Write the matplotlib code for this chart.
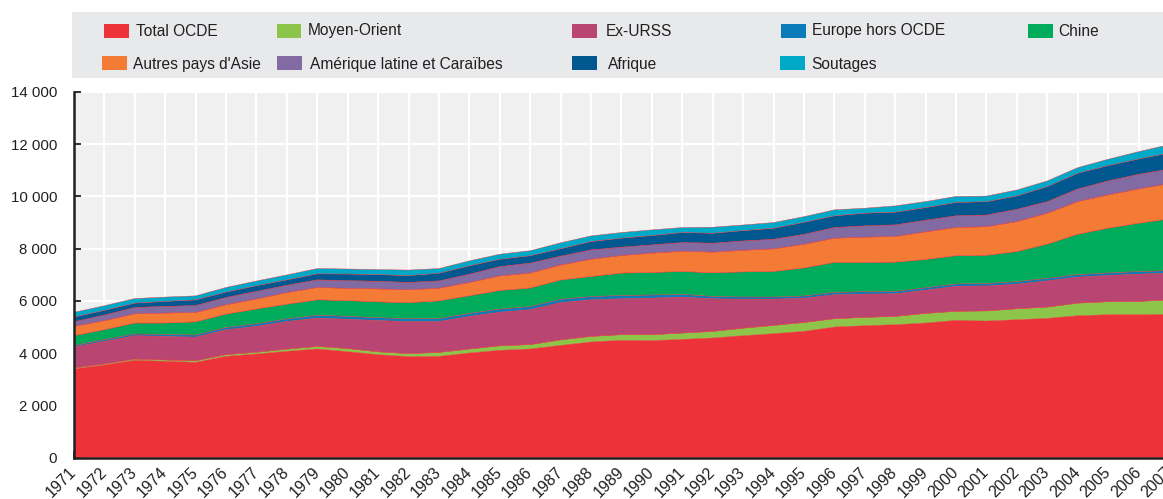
import matplotlib
matplotlib.use("Agg")
import matplotlib.pyplot as plt
from matplotlib.patches import Rectangle
from matplotlib.ticker import FuncFormatter, MultipleLocator

# ---------------- data (Mtep) ----------------
years = list(range(1971, 2008))
ocde = [3391, 3544, 3722, 3684, 3645, 3875, 3964, 4067, 4156, 4053,
        3939, 3862, 3875, 4003, 4105, 4155, 4296, 4424, 4487, 4474,
        4525, 4576, 4665, 4742, 4831, 4997, 5048, 5086, 5150, 5252,
        5226, 5277, 5328, 5430, 5468, 5468, 5481]
moyen_orient = [40, 40, 50, 52, 60, 64, 68, 85, 100, 120,
                110, 118, 150, 152, 175, 170, 210, 215, 218, 230,
                242, 255, 290, 318, 340, 320, 320, 320, 370, 350,
                390, 420, 435, 485, 500, 510, 560]
ex_urss = [802, 867, 892, 905, 905, 956, 994, 1058, 1083, 1123,
           1198, 1224, 1185, 1249, 1287, 1339, 1428, 1402, 1376, 1402,
           1377, 1249, 1109, 1007, 931, 918, 892, 867, 892, 956,
           956, 943, 1006, 994, 1008, 1046, 1019]
europe = [60, 65, 70, 75, 80, 88, 95, 100, 110, 110,
          110, 110, 112, 115, 120, 120, 125, 125, 125, 120,
          105, 90, 85, 80, 85, 90, 90, 90, 90, 90,
          92, 95, 95, 95, 95, 98, 100]
chine = [373, 381, 415, 435, 507, 510, 568, 562, 591, 603,
         604, 616, 679, 676, 709, 708, 740, 767, 857, 861,
         877, 904, 961, 979, 1075, 1147, 1122, 1121, 1083, 1082,
         1081, 1154, 1308, 1549, 1714, 1852, 1978]
asie = [357, 344, 357, 382, 357, 358, 382, 446, 472, 472,
        497, 497, 484, 510, 561, 574, 575, 663, 674, 740,
        777, 791, 828, 866, 905, 930, 968, 982, 1058, 1084,
        1096, 1147, 1185, 1249, 1275, 1313, 1352]
amerique = [179, 216, 242, 255, 268, 280, 294, 281, 293, 293,
            293, 281, 280, 318, 357, 380, 340, 357, 320, 318,
            331, 344, 357, 370, 382, 408, 434, 446, 446, 446,
            446, 472, 446, 485, 535, 561, 561]
afrique = [178, 179, 166, 191, 216, 204, 216, 204, 229, 255,
           255, 260, 294, 319, 280, 283, 281, 319, 344, 357,
           383, 382, 395, 420, 459, 446, 484, 484, 484, 510,
           510, 510, 574, 599, 587, 586, 611]
soutages = [179, 178, 175, 166, 153, 179, 179, 191, 204, 191,
            191, 211, 178, 191, 192, 191, 229, 216, 217, 217,
            191, 230, 217, 217, 217, 230, 191, 242, 230, 230,
            217, 229, 216, 217, 242, 280, 319]

series = [ocde, moyen_orient, ex_urss, europe, chine, asie, amerique, afrique, soutages]
labels = ["Total OCDE", "Moyen-Orient", "Ex-URSS", "Europe hors OCDE", "Chine",
          "Autres pays d'Asie", "Amérique latine et Caraïbes", "Afrique", "Soutages"]
colors = ["#ee3239", "#8dc44a", "#b94572", "#0b7bba", "#00ab5c",
          "#f47b35", "#826aa3", "#01578f", "#00a9c8"]

FONT = ["Liberation Sans", "DejaVu Sans"]
plt.rcParams["font.family"] = FONT
TXT = "#231f20"

W, H = 1163, 499
fig = plt.figure(figsize=(W / 100, H / 100), dpi=100)

# axes placement (pixels -> fraction)
x_left, x_right = 74, 1169
y_top, y_bot = 92, 457.5
ax = fig.add_axes([x_left / W, (H - y_bot) / H, (x_right - x_left) / W, (y_bot - y_top) / H])
ax.set_facecolor("#f0f0f0")

ax.stackplot(years, *series, colors=colors, linewidth=0.3,
             edgecolors=colors, zorder=2)

ax.set_xlim(years[0], years[-1])
ax.set_ylim(0, 14000)
ax.set_xticks(years)
ax.set_xticklabels([str(y) for y in years], rotation=45, ha="right", va="center",
                   rotation_mode="anchor", fontsize=11.5, color=TXT)
ax.yaxis.set_major_locator(MultipleLocator(2000))
ax.yaxis.set_major_formatter(FuncFormatter(lambda v, p: f"{int(v):,}".replace(",", " ")))
for t in ax.get_yticklabels():
    t.set_fontsize(10.8)
    t.set_color(TXT)

ax.grid(True, color="white", linewidth=1.6, zorder=0)
ax.set_axisbelow(True)
ax.tick_params(axis="x", direction="in", length=5, width=1.3, color=TXT, pad=9)
ax.tick_params(axis="y", direction="in", length=5, width=1.3, color=TXT, pad=12)
for s in ["top", "right"]:
    ax.spines[s].set_visible(False)
for s in ["left", "bottom"]:
    ax.spines[s].set_color(TXT)
    ax.spines[s].set_linewidth(1.8)
    ax.spines[s].set_zorder(5)

# ---------------- legend (manual layout) ----------------
lg_x0, lg_y0, lg_y1 = 72.3, 12.3, 77.7
fig.patches.append(Rectangle((lg_x0 / W, (H - lg_y1) / H), 1.0, (lg_y1 - lg_y0) / H,
                             transform=fig.transFigure, facecolor="#e8e9eb",
                             edgecolor="none", zorder=0))
patch_x = [104.3, 276.7, 572.3, 781, 1028, 102.3, 277.3, 572.3, 780]
text_dx = [31.4, 31.3, 33.4, 30.7, 30, 31, 32.7, 36, 31.7]
row_y = [31, 63]
text_y = [29.5, 63]
pw, ph = 24.5, 13
for i, (lab, col) in enumerate(zip(labels, colors)):
    r = 0 if i < 5 else 1
    px = patch_x[i]
    cy = row_y[r]
    fig.patches.append(Rectangle((px / W, (H - cy - ph / 2) / H), pw / W, ph / H,
                                 transform=fig.transFigure, facecolor=col,
                                 edgecolor="none", zorder=1))
    fig.text((px + text_dx[i]) / W, (H - text_y[r]) / H, lab, fontsize=11.2,
             color=TXT, ha="left", va="center_baseline")

fig.savefig("out.png", dpi=100)
